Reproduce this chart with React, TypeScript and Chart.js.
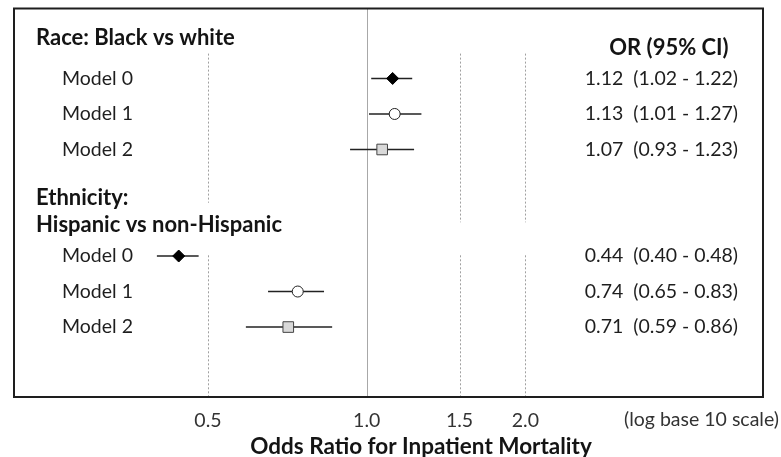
import { useEffect, useRef } from "react";
import { Chart, registerables } from "chart.js";

Chart.register(...registerables);

// ---- data ----
const models = ["Model 0", "Model 1", "Model 2"];
const raceTitle = "Race: Black vs white";
const ethTitle = ["Ethnicity:", "Hispanic vs non-Hispanic"];
const raceOR = [1.12, 1.13, 1.07];
const raceLo = [1.02, 1.01, 0.93];
const raceHi = [1.22, 1.27, 1.23];
const ethOR = [0.44, 0.74, 0.71];
const ethLo = [0.4, 0.65, 0.59];
const ethHi = [0.48, 0.83, 0.86];
const raceRows = [1, 2, 3];
const ethRows = [6, 7, 8];
const tickValues = [0.5, 1.0, 1.5, 2.0];
const tickLabels = ["0.5", "1.0", "1.5", "2.0"];
const ciHeader = "OR (95% CI)";
const scaleNote = "(log base 10 scale)";
const axisTitle = "Odds Ratio for Inpatient Mortality";

const FONT = "Lato, 'Open Sans', sans-serif";
const REG = 19.5;
const BOLD = 22;

const fmt = (o: number, l: number, h: number) =>
  `${o.toFixed(2)}  (${l.toFixed(2)} - ${h.toFixed(2)})`;

const overlay = {
  id: "overlay",
  beforeDatasetsDraw(chart: any) {
    const { ctx, chartArea, scales } = chart;
    const { top, bottom } = chartArea;
    const x = scales.x;
    const y = scales.y;
    ctx.save();
    // reference line at 1.0
    const x1 = Math.round(x.getPixelForValue(1)) + 0.5;
    ctx.strokeStyle = "#a8a8a8";
    ctx.lineWidth = 1;
    ctx.beginPath();
    ctx.moveTo(x1, top);
    ctx.lineTo(x1, bottom);
    ctx.stroke();
    // dotted guides, in two blocks
    ctx.setLineDash([2, 2]);
    ctx.strokeStyle = "#a0a0a0";
    [0.5, 1.5, 2.0].forEach((v) => {
      const px = Math.round(x.getPixelForValue(v)) + 0.5;
      const end1 = v === 0.5 ? 4.5 : 5.05;
      ctx.beginPath();
      ctx.moveTo(px, y.getPixelForValue(0.3));
      ctx.lineTo(px, y.getPixelForValue(end1));
      ctx.moveTo(px, y.getPixelForValue(5.98));
      ctx.lineTo(px, bottom);
      ctx.stroke();
    });
    ctx.restore();
  },
  afterDatasetsDraw(chart: any) {
    const { ctx, chartArea, scales } = chart;
    const { left, right, top, bottom } = chartArea;
    const y = scales.y;
    ctx.save();
    ctx.textBaseline = "middle";
    ctx.fillStyle = "#141414";
    // group headers
    ctx.font = `bold ${BOLD}px ${FONT}`;
    ctx.textAlign = "left";
    ctx.fillText(raceTitle, left + 22, y.getPixelForValue(-0.15));
    ctx.fillText(ethTitle[0], left + 22, y.getPixelForValue(4.35));
    ctx.fillText(ethTitle[1], left + 22, y.getPixelForValue(5.13));
    ctx.textAlign = "center";
    ctx.fillText(ciHeader, right - 94, y.getPixelForValue(0.13));
    // model labels and CI texts
    ctx.font = `${REG}px ${FONT}`;
    ctx.fillStyle = "#1e1e1e";
    models.forEach((m, i) => {
      ctx.textAlign = "left";
      ctx.fillText(m, left + 48, y.getPixelForValue(raceRows[i]));
      ctx.fillText(m, left + 48, y.getPixelForValue(ethRows[i]));
      ctx.textAlign = "right";
      ctx.fillText(fmt(raceOR[i], raceLo[i], raceHi[i]), right - 25, y.getPixelForValue(raceRows[i]));
      ctx.fillText(fmt(ethOR[i], ethLo[i], ethHi[i]), right - 25, y.getPixelForValue(ethRows[i]));
    });
    // frame
    ctx.strokeStyle = "#1e1e1e";
    ctx.lineWidth = 2;
    ctx.strokeRect(left, top, right - left, bottom - top);
    ctx.restore();
  },
  afterDraw(chart: any) {
    const { ctx, scales } = chart;
    const x = scales.x;
    ctx.save();
    ctx.font = `${REG}px ${FONT}`;
    ctx.fillStyle = "#333";
    ctx.textAlign = "right";
    ctx.textBaseline = "middle";
    ctx.fillText(scaleNote, chart.width - 2, x.top + 23);
    // axis title (offset right of centre as in the original)
    ctx.font = `bold ${BOLD + 0.5}px ${FONT}`;
    ctx.fillStyle = "#141414";
    ctx.textAlign = "center";
    ctx.fillText(axisTitle, 421, x.top + 50);
    ctx.restore();
  },
};

export default function App() {
  const ref = useRef<HTMLCanvasElement | null>(null);
  useEffect(() => {
    if (!ref.current) return;
    const markerStyles = [
      { pointStyle: "rectRot", radius: 6, bg: "#000000", border: "#000000" },
      { pointStyle: "circle", radius: 5.5, bg: "#ffffff", border: "#222222" },
      { pointStyle: "rect", radius: 7.5, bg: "#d9d9d9", border: "#444444" },
    ];
    const markerSets = models.map((m, i) => ({
      type: "scatter" as const,
      label: m,
      data: [
        { x: raceOR[i], y: raceRows[i] },
        { x: ethOR[i], y: ethRows[i] },
      ],
      pointStyle: markerStyles[i].pointStyle,
      pointRadius: markerStyles[i].radius,
      pointBackgroundColor: markerStyles[i].bg,
      pointBorderColor: markerStyles[i].border,
      pointBorderWidth: 1,
      showLine: false,
      order: 0,
    }));
    const ciSets: any[] = [];
    models.forEach((m, i) => {
      ciSets.push({
        type: "line",
        label: `race ${m} CI`,
        data: [
          { x: raceLo[i], y: raceRows[i] },
          { x: raceHi[i], y: raceRows[i] },
        ],
        borderColor: "#222",
        borderWidth: 1.5,
        pointRadius: 0,
        order: 1,
      });
      ciSets.push({
        type: "line",
        label: `eth ${m} CI`,
        data: [
          { x: ethLo[i], y: ethRows[i] },
          { x: ethHi[i], y: ethRows[i] },
        ],
        borderColor: "#222",
        borderWidth: 1.5,
        pointRadius: 0,
        order: 1,
      });
    });
    const chart = new Chart(ref.current, {
      type: "scatter",
      data: { datasets: [...markerSets, ...ciSets] as any },
      options: {
        animation: false,
        responsive: true,
        maintainAspectRatio: false,
        layout: { padding: { left: 14, right: 18, top: 8, bottom: 0 } },
        plugins: { legend: { display: false }, tooltip: { enabled: false } },
        scales: {
          x: {
            type: "logarithmic",
            min: 0.2143,
            max: 5.646,
            afterBuildTicks: (s: any) => {
              s.ticks = tickValues.map((v) => ({ value: v }));
            },
            afterFit: (s: any) => {
              s.height = 60;
            },
            grid: { display: false, drawTicks: false },
            border: { display: false },
            ticks: {
              autoSkip: false,
              maxRotation: 0,
              padding: 12,
              color: "#333",
              font: { family: FONT, size: REG },
              callback: (_v: any, i: number) => tickLabels[i] ?? "",
            },
            title: { display: false, text: axisTitle },
          },
          y: { type: "linear", min: -0.97, max: 9.97, reverse: true, display: false },
        },
      } as any,
      plugins: [overlay],
    });
    return () => chart.destroy();
  }, []);
  return (
    <div style={{ position: "absolute", left: 0, top: 0, width: 781, height: 457, background: "#fff" }}>
      <canvas ref={ref} />
    </div>
  );
}
